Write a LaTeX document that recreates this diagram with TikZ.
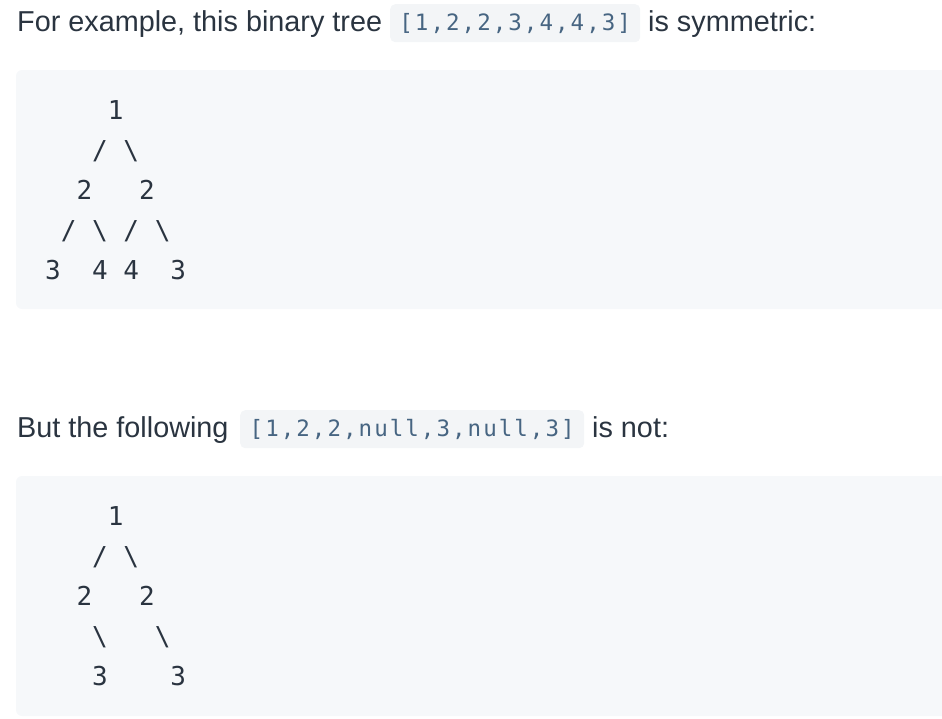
\documentclass[tikz,border=0pt]{standalone}
\usepackage{fontspec}
\setmainfont{Liberation Sans}
\newfontfamily\treefont{DejaVu Sans Mono}
\newfontfamily\spanfont[LetterSpace=9]{DejaVu Sans Mono}
\definecolor{bodytext}{HTML}{2A3440}
\definecolor{spantext}{HTML}{476582}
\definecolor{blockbg}{HTML}{F6F8FA}
\definecolor{spanbg}{HTML}{F3F5F7}
\tikzset{
  sentence/.style={anchor=base west, inner sep=0pt, text=bodytext, font=\fontsize{28.8}{34}\selectfont},
  codespan/.style={fill=spanbg, rounded corners=5pt, text=spantext, minimum height=38pt, inner sep=0pt, anchor=north west, font=\spanfont\fontsize{22.5}{26}\selectfont},
  treeline/.style={anchor=base west, inner sep=0pt, text=bodytext, font=\treefont\fontsize{26}{30}\selectfont},
}
\begin{document}
\begin{tikzpicture}[x=1pt,y=-1pt]
\useasboundingbox (0,0) rectangle (942,718);
% symmetric tree
\node[sentence] (intro) at (17,31) {For example, this binary tree};
\node[codespan, minimum width=250pt] (list1) at (390,4) {[1,2,2,3,4,4,3]};
\node[sentence] (verdict1) at (648,31) {is symmetric:};
\fill[blockbg, rounded corners=6pt] (16,70) rectangle (960,309);
\node[treeline] (a1) at (45,119) {~~~~1};
\node[treeline] (a2) at (45,159) {~~~/~\textbackslash};
\node[treeline] (a3) at (45,199) {~~2~~~2};
\node[treeline] (a4) at (45,239) {~/~\textbackslash~/~\textbackslash};
\node[treeline] (a5) at (45,279) {3~~4~4~~3};
% not symmetric
\node[sentence] (outro) at (17,437) {But the following};
\node[codespan, minimum width=344pt] (list2) at (240,410) {[1,2,2,null,3,null,3]};
\node[sentence] (verdict2) at (592,437) {is not:};
\fill[blockbg, rounded corners=6pt] (16,476) rectangle (960,716);
\node[treeline] (b1) at (45,525) {~~~~1};
\node[treeline] (b2) at (45,565) {~~~/~\textbackslash};
\node[treeline] (b3) at (45,605) {~~2~~~2};
\node[treeline] (b4) at (45,645) {~~~\textbackslash~~~\textbackslash};
\node[treeline] (b5) at (45,685) {~~~3~~~~3};
\end{tikzpicture}
\end{document}
